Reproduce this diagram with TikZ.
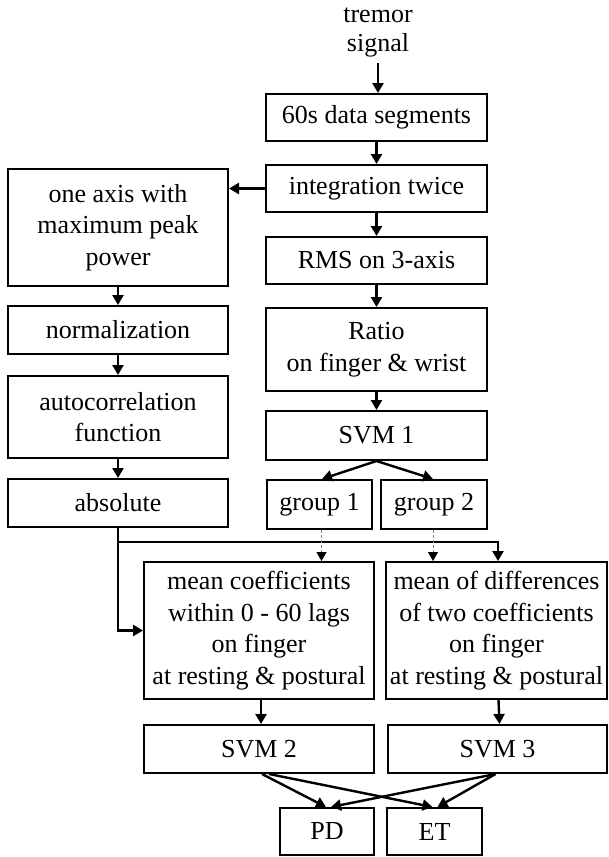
\documentclass[tikz,border=0pt]{standalone}
\usepackage{fontspec}
\setmainfont{Liberation Serif}
\usetikzlibrary{arrows.meta,calc}
\begin{document}
\begin{tikzpicture}[x=1pt,y=-1pt,
  box/.style={draw,line width=2pt,rectangle,inner sep=0pt,align=center,
    font=\fontsize{26}{31.5}\selectfont},
  plain/.style={inner sep=0pt,align=center,font=\fontsize{26}{29}\selectfont},
  arr/.style={line width=2.4pt,-{Triangle[length=10pt,width=11pt]}},
  dsh/.style={line width=0.9pt,draw=gray,dash pattern=on 3pt off 2pt,
    -{Triangle[length=9pt,width=10pt,fill=black,color=black]}}]
\useasboundingbox (0,0) rectangle (609,857);
% right column
\node[plain] (tremor) at (378,32) {tremor\\signal};
\node[box,minimum width=221,minimum height=47] (seg) at (376.5,117.5) {60s data segments};
\node[box,minimum width=221,minimum height=47] (integ) at (376.5,188.5) {integration twice};
\node[box,minimum width=221,minimum height=47] (rms) at (376.5,260.5) {RMS on 3-axis};
\node[box,minimum width=221,minimum height=83] (ratio) at (376.5,349.5) {Ratio\\on finger \& wrist};
\node[box,minimum width=221,minimum height=49] (svm1) at (376.5,435.5) {SVM 1};
\node[box,minimum width=105,minimum height=49] (g1) at (319.5,504.5) {group 1};
\node[box,minimum width=106,minimum height=49] (g2) at (434,504.5) {group 2};
% left column
\node[box,minimum width=220,minimum height=117] (axis) at (118,227.5) {one axis with\\maximum peak\\power};
\node[box,minimum width=220,minimum height=48] (norm) at (118,330) {normalization};
\node[box,minimum width=220,minimum height=82] (auto) at (118,417) {autocorrelation\\function};
\node[box,minimum width=220,minimum height=48] (abs) at (118,503) {absolute};
% bottom
\node[box,minimum width=230,minimum height=137] (mc) at (259,630.5) {mean coefficients\\within 0 - 60 lags\\on finger\\at resting \& postural};
\node[box,minimum width=221,minimum height=137] (md) at (496.5,630.5) {mean of differences\\of two coefficients\\on finger\\at resting \& postural};
\node[box,minimum width=230,minimum height=48] (svm2) at (259,749) {SVM 2};
\node[box,minimum width=219,minimum height=48] (svm3) at (497.5,749) {SVM 3};
\node[box,minimum width=94,minimum height=47] (pd) at (327,831.5) {PD};
\node[box,minimum width=95,minimum height=47] (et) at (434.5,831.5) {ET};
% connectors
\draw[arr] ($(seg.north)+(1.5,-30)$) -- ($(seg.north)+(1.5,0)$);
\draw[arr] (seg) -- (integ);
\draw[arr] (integ) -- (rms);
\draw[arr] (rms) -- (ratio);
\draw[arr] (ratio) -- (svm1);
\draw[arr] (integ.west) -- (axis.east |- integ.west);
\draw[arr] (svm1.south) -- ($(g1.north)+(2.5,0)$);
\draw[arr] (svm1.south) -- ($(g2.north)+(-1,0)$);
\draw[arr] (axis) -- (norm);
\draw[arr] (norm) -- (auto);
\draw[arr] (auto) -- (abs);
\draw[arr] (abs.south) |- ($(md.north)+(1.5,-19)$) -- ($(md.north)+(1.5,0)$);
\draw[arr] (abs.south) |- (mc.west);
\draw[dsh] ($(g1.south)+(2,0)$) -- ($(g1.south |- mc.north)+(2,0)$);
\draw[dsh] ($(g2.south)+(-1,0)$) -- ($(g2.south |- md.north)+(-1,0)$);
\draw[arr] ($(mc.south)+(2,0)$) -- ($(svm2.north)+(2,0)$);
\draw[arr] ($(md.south)+(2,0)$) -- ($(svm3.north)+(2,0)$);
\draw[arr] ($(svm2.south)+(3,0)$) -- ($(pd.north)+(-1,0)$);
\draw[arr] ($(svm2.south)+(10,0)$) -- ($(et.north)+(-2,0)$);
\draw[arr] ($(svm3.south)+(-2,0)$) -- ($(pd.north)+(4,0)$);
\draw[arr] ($(svm3.south)+(-2,0)$) -- ($(et.north)+(3,0)$);
\end{tikzpicture}
\end{document}
